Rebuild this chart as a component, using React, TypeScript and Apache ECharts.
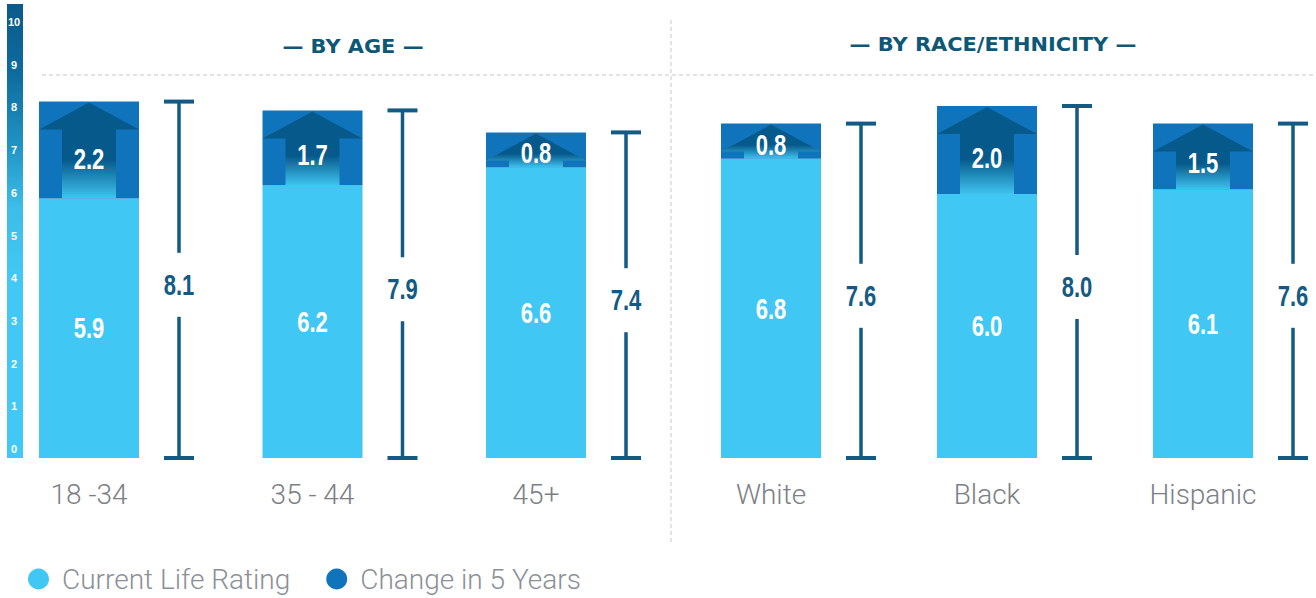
import { useEffect, useRef } from "react";
import * as echarts from "echarts";

const ageGroups = ["18 -34", "35 - 44", "45+"];
const ageCurrent = [5.9, 6.2, 6.6];
const ageChange = [2.2, 1.7, 0.8];
const ageFuture = [8.1, 7.9, 7.4];
const raceGroups = ["White", "Black", "Hispanic"];
const raceCurrent = [6.8, 6.0, 6.1];
const raceChange = [0.8, 2.0, 1.5];
const raceFuture = [7.6, 8.0, 7.6];
const yTickLabels = ["0", "1", "2", "3", "4", "5", "6", "7", "8", "9", "10"];
const groupHeaders = ["— BY AGE —", "— BY RACE/ETHNICITY —"];
const legendNames = ["Current Life Rating", "Change in 5 Years"];

const LIGHT = "#41c7f3";
const DARK = "#0f74bb";
const ARROW = "#065a8b";
const NAVY = "#135b84";
const HEADER = "#0d5876";
const GRAY_TEXT = "#7c8086";
const NUM_FONT = "'Liberation Sans', Arial, sans-serif";
const TEXT_FONT = "Roboto, 'Liberation Sans', sans-serif";
const BAR_W = 100;
const BEAM_OFFSET = 90;

function numText(x: number, y: number, text: string, fill: string) {
  return {
    type: "text",
    x,
    y,
    scaleX: 0.76,
    style: {
      text,
      fill,
      fontSize: 29,
      fontWeight: "bold",
      fontFamily: NUM_FONT,
      align: "center",
      verticalAlign: "middle",
    },
  };
}

function makeSeries(axisIdx: number, cats: string[], cur: number[], chg: number[], fut: number[]) {
  const currentSeries = {
    type: "custom",
    name: legendNames[0],
    xAxisIndex: axisIdx,
    yAxisIndex: axisIdx,
    itemStyle: { color: LIGHT },
    data: cats.map((_, i) => [i, cur[i]]),
    renderItem: (params: any, api: any) => {
      const i = api.value(0);
      const v = api.value(1);
      const p0 = api.coord([i, 0]);
      const p1 = api.coord([i, v]);
      return {
        type: "group",
        children: [
          {
            type: "rect",
            shape: { x: p0[0] - BAR_W / 2, y: p1[1], width: BAR_W, height: p0[1] - p1[1] },
            style: { fill: LIGHT },
          },
          numText(p0[0], (p0[1] + p1[1]) / 2, v.toFixed(1), "#ffffff"),
        ],
      };
    },
  };

  const changeSeries = {
    type: "custom",
    name: legendNames[1],
    xAxisIndex: axisIdx,
    yAxisIndex: axisIdx,
    itemStyle: { color: DARK },
    data: cats.map((_, i) => [i, cur[i], chg[i]]),
    renderItem: (params: any, api: any) => {
      const i = api.value(0);
      const base = api.value(1);
      const ch = api.value(2);
      const pb = api.coord([i, base]);
      const pt = api.coord([i, base + ch]);
      const cx = pb[0];
      const x0 = cx - BAR_W / 2;
      const x1 = cx + BAR_W / 2;
      const top = pt[1];
      const bot = pb[1];
      const h = bot - top;
      const headH = Math.min(28, h - 4);
      const sw = 27;
      return {
        type: "group",
        children: [
          {
            type: "rect",
            shape: { x: x0, y: top, width: BAR_W, height: h },
            style: { fill: DARK },
          },
          {
            type: "polygon",
            shape: {
              points: [
                [cx, top + 1],
                [x1, top + headH],
                [cx + sw, top + headH],
                [cx + sw, bot],
                [cx - sw, bot],
                [cx - sw, top + headH],
                [x0, top + headH],
              ],
            },
            style: {
              fill: new echarts.graphic.LinearGradient(0, 0, 0, 1, [
                { offset: 0, color: ARROW },
                { offset: 0.6, color: ARROW },
                { offset: 1, color: "#3fc3ef" },
              ]),
            },
          },
          numText(cx, top + h / 2 + h * 0.09, ch.toFixed(1), "#ffffff"),
        ],
      };
    },
  };

  const beamSeries = {
    type: "custom",
    name: "Future Life Rating",
    xAxisIndex: axisIdx,
    yAxisIndex: axisIdx,
    data: cats.map((_, i) => [i, fut[i]]),
    renderItem: (params: any, api: any) => {
      const i = api.value(0);
      const v = api.value(1);
      const p0 = api.coord([i, 0]);
      const p1 = api.coord([i, v]);
      const x = p0[0] + BEAM_OFFSET;
      const mid = (p0[1] + p1[1]) / 2 + 5;
      const gap = 32;
      const ls = { stroke: NAVY, lineWidth: 3.5 };
      const cs = { stroke: NAVY, lineWidth: 4 };
      return {
        type: "group",
        children: [
          { type: "line", shape: { x1: x - 15, y1: p1[1], x2: x + 15, y2: p1[1] }, style: cs },
          { type: "line", shape: { x1: x, y1: p1[1], x2: x, y2: mid - gap }, style: ls },
          { type: "line", shape: { x1: x, y1: mid + gap, x2: x, y2: p0[1] }, style: ls },
          { type: "line", shape: { x1: x - 15, y1: p0[1], x2: x + 15, y2: p0[1] }, style: cs },
          numText(x, mid, v.toFixed(1), NAVY),
        ],
      };
    },
  };
  return [currentSeries, changeSeries, beamSeries];
}

function catAxis(gridIndex: number, data: string[]) {
  return {
    type: "category",
    gridIndex,
    data,
    boundaryGap: false,
    axisLine: { show: false },
    axisTick: { show: false },
    splitLine: { show: false },
    axisLabel: {
      margin: 22,
      fontSize: 28,
      color: GRAY_TEXT,
      fontFamily: TEXT_FONT,
      fontWeight: 300,
    },
  };
}

export default function App() {
  const ref = useRef<HTMLDivElement>(null);
  useEffect(() => {
    if (!ref.current) return;
    const chart = echarts.init(ref.current, undefined, { renderer: "svg" });

    const headerStyle = (text: string) => ({
      text,
      fill: HEADER,
      fontSize: 19,
      fontWeight: "bold",
      fontFamily: "'DejaVu Sans', sans-serif",
      align: "center",
      verticalAlign: "middle",
    });

    const option: any = {
      animation: false,
      backgroundColor: "#ffffff",
      grid: [
        { left: 89, width: 447, top: 18, bottom: 140 },
        { left: 771, width: 432, top: 18, bottom: 140 },
        { left: 7, width: 16, top: 22, height: 427 },
      ],
      xAxis: [
        catAxis(0, ageGroups),
        catAxis(1, raceGroups),
        { type: "value", gridIndex: 2, min: 0, max: 1, show: false },
      ],
      yAxis: [
        { type: "value", gridIndex: 0, min: 0, max: 10, show: false },
        { type: "value", gridIndex: 1, min: 0, max: 10, show: false },
        {
          type: "value",
          gridIndex: 2,
          min: 0,
          max: 10,
          interval: 1,
          axisLine: { show: false },
          axisTick: { show: false },
          splitLine: { show: false },
          axisLabel: {
            inside: true,
            margin: 7,
            align: "center",
            color: "#ffffff",
            fontWeight: "bold",
            fontSize: 11,
            fontFamily: "'Liberation Sans', Arial, sans-serif",
            formatter: (val: number) => yTickLabels[Math.round(val)] ?? "",
          },
        },
      ],
      legend: {
        left: 28,
        top: 565,
        padding: 0,
        icon: "circle",
        itemWidth: 21,
        itemHeight: 21,
        itemGap: 36,
        data: legendNames,
        textStyle: {
          fontSize: 28,
          color: "#8b9097",
          fontFamily: TEXT_FONT,
          fontWeight: 300,
          padding: [0, 0, 0, 8],
        },
      },
      graphic: [
        {
          type: "rect",
          z: -1,
          shape: { x: 7, y: 4, width: 16, height: 454 },
          style: {
            fill: new echarts.graphic.LinearGradient(0, 0, 0, 1, [
              { offset: 0, color: "#0b5a8a" },
              { offset: 0.15, color: "#0d6b9e" },
              { offset: 0.3, color: "#1f90c0" },
              { offset: 0.45, color: "#3dbde8" },
              { offset: 0.6, color: "#42c8f4" },
              { offset: 1, color: "#42c8f4" },
            ]),
          },
        },
        {
          type: "line",
          shape: { x1: 42, y1: 75, x2: 1316, y2: 75 },
          style: { stroke: "#c8c8c8", lineWidth: 1, lineDash: [4, 3] },
        },
        {
          type: "line",
          shape: { x1: 671, y1: 20, x2: 671, y2: 542 },
          style: { stroke: "#c8c8c8", lineWidth: 1, lineDash: [4, 3] },
        },
        { type: "text", x: 353, y: 46, scaleX: 1.1, style: headerStyle(groupHeaders[0]) },
        { type: "text", x: 993, y: 44, scaleX: 1.1, style: headerStyle(groupHeaders[1]) },
      ],
      series: [
        ...makeSeries(0, ageGroups, ageCurrent, ageChange, ageFuture),
        ...makeSeries(1, raceGroups, raceCurrent, raceChange, raceFuture),
      ],
    };

    chart.setOption(option);
    return () => chart.dispose();
  }, []);

  return (
    <div
      ref={ref}
      style={{ position: "absolute", left: 0, top: 0, width: 1316, height: 598 }}
    />
  );
}
